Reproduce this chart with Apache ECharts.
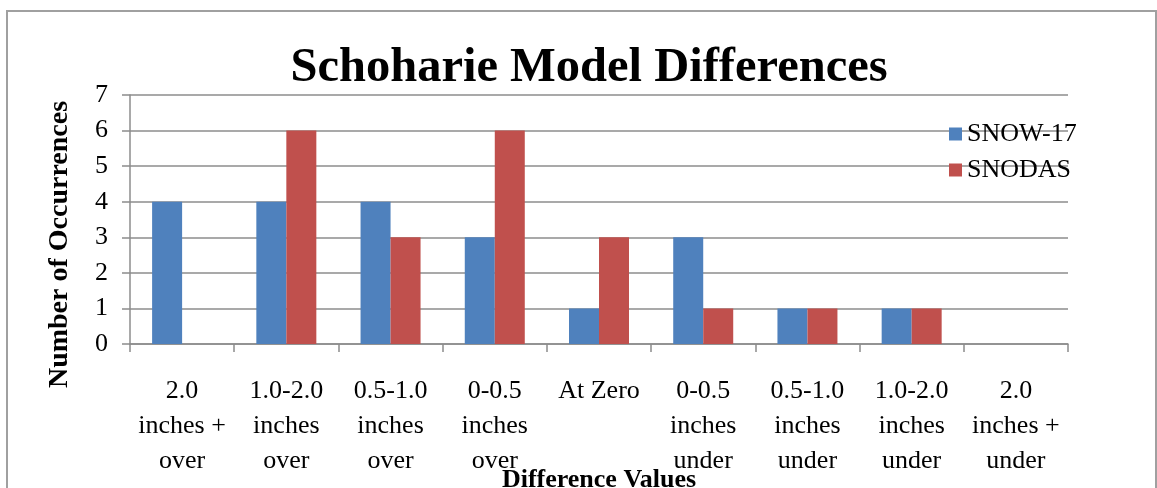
<!DOCTYPE html>
<html>
<head>
<meta charset="utf-8">
<script src="https://cdn.jsdelivr.net/npm/echarts@6/dist/echarts.min.js"></script>
<style>html,body{margin:0;padding:0;background:#fff}#c{width:1157px;height:488px}</style>
</head>
<body>
<div id="c"></div>
<script>
const categories = [
  "2.0\ninches +\nover", "1.0-2.0\ninches\nover", "0.5-1.0\ninches\nover", "0-0.5\ninches\nover",
  "At Zero", "0-0.5\ninches\nunder", "0.5-1.0\ninches\nunder", "1.0-2.0\ninches\nunder", "2.0\ninches +\nunder"
];
const snow17 = [4, 4, 4, 3, 1, 3, 1, 1, 0];
const snodas = [0, 6, 3, 6, 3, 1, 1, 1, 0];
const seriesNames = ["SNOW-17", "SNODAS"];
const yTicks = [0, 1, 2, 3, 4, 5, 6, 7];

const FONT = "'Liberation Serif', 'Times New Roman', serif";
const GRAY = "#8c8c8c";
const chart = echarts.init(document.getElementById('c'));
chart.setOption({
  animation: false,
  backgroundColor: '#fff',
  graphic: [{
    type: 'rect', shape: { x: 7, y: 11, width: 1149, height: 520 },
    style: { fill: 'none', stroke: '#a0a0a0', lineWidth: 2 }, silent: true
  }],
  title: {
    text: 'Schoharie Model Differences', left: 584, top: 39, textAlign: 'center',
    textStyle: { fontFamily: FONT, fontSize: 48.5, fontWeight: 'bold', color: '#000' }
  },
  legend: {
    orient: 'vertical', left: 944, top: 116, itemWidth: 13, itemHeight: 13, itemGap: 10,
    icon: 'rect',
    textStyle: { fontFamily: FONT, fontSize: 26, color: '#000', lineHeight: 26 },
    data: seriesNames
  },
  grid: { left: 130, right: 89, top: 95, bottom: 144, containLabel: false, outerBoundsMode: 'none' },
  xAxis: {
    type: 'category', data: categories,
    axisLine: { lineStyle: { color: GRAY, width: 1.5 } },
    axisTick: { show: true, length: 8, lineStyle: { color: GRAY, width: 1.5 } },
    axisLabel: { interval: 0, fontFamily: FONT, fontSize: 26, color: '#000', lineHeight: 35, margin: 30 },
    name: 'Difference Values', nameLocation: 'middle', nameGap: 123, nameMoveOverlap: false,
    nameTextStyle: { fontFamily: FONT, fontSize: 26, fontWeight: 'bold', color: '#000' }
  },
  yAxis: {
    type: 'value', min: 0, max: 7, interval: 1,
    axisLine: { show: true, lineStyle: { color: GRAY, width: 1.5 } },
    axisTick: { show: true, length: 8, lineStyle: { color: GRAY, width: 1.5 } },
    splitLine: { lineStyle: { color: GRAY, width: 1.5 } },
    axisLabel: { fontFamily: FONT, fontSize: 26, color: '#000', margin: 22,
      formatter: v => yTicks.includes(v) ? String(v) : '' },
    name: 'Number of Occurrences', nameLocation: 'middle', nameGap: 56, nameMoveOverlap: false,
    nameTextStyle: { fontFamily: FONT, fontSize: 28, fontWeight: 'bold', color: '#000', padding: [0, 50, 0, 0] }
  },
  series: [
    { name: seriesNames[0], type: 'bar', data: snow17, barWidth: 30, barGap: '0%', itemStyle: { color: '#4F81BD' } },
    { name: seriesNames[1], type: 'bar', data: snodas, barWidth: 30, barGap: '0%', itemStyle: { color: '#C0504D' } }
  ]
});
</script>
</body>
</html>
